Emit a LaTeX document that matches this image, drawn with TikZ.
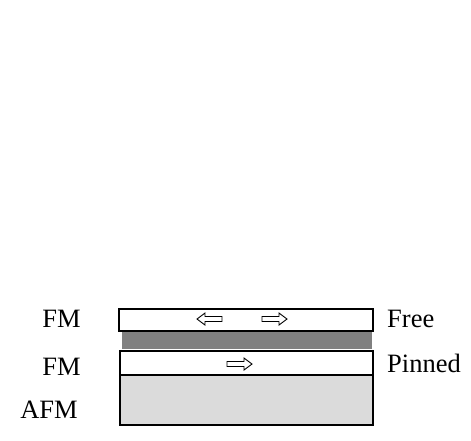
\documentclass[tikz,border=0pt]{standalone}
\usepackage{fontspec}
\setmainfont{Liberation Serif}
\begin{document}
\begin{tikzpicture}[x=1pt,y=-1pt,
  layer/.style={draw=black,line width=1.6pt},
  lbl/.style={font=\fontsize{26.5}{30}\selectfont,inner sep=0pt},
  harrow/.style={draw=black,line width=0.9pt,fill=white,line join=miter}]
\useasboundingbox (0,0) rectangle (471,440);
% layers
\fill[black!50] (122,331) rectangle (372,349);
\draw[draw=black,line width=1.2pt,fill=black!14] (120,375) rectangle (373,425);
\draw[layer,fill=white] (119,309) rectangle (373,331);
\draw[layer,fill=white] (120,351) rectangle (373,375);
% arrows
\newcommand{\rarr}[2]{\draw[harrow] (#1,#2-2.5) -- (#1+17,#2-2.5) -- (#1+17,#2-6) -- (#1+25,#2) -- (#1+17,#2+6) -- (#1+17,#2+2.5) -- (#1,#2+2.5) -- cycle;}
\newcommand{\larr}[2]{\draw[harrow] (#1,#2-2.5) -- (#1-17,#2-2.5) -- (#1-17,#2-6) -- (#1-25,#2) -- (#1-17,#2+6) -- (#1-17,#2+2.5) -- (#1,#2+2.5) -- cycle;}
\larr{222}{319}
\rarr{262}{319}
\rarr{227}{364}
% labels
\node[lbl,anchor=base east] (fm1) at (81,327) {FM};
\node[lbl,anchor=base east] (fm2) at (81,375) {FM};
\node[lbl,anchor=base east] (afm) at (78,418) {AFM};
\node[lbl,anchor=base west] (free) at (387,327) {Free};
\node[lbl,anchor=base west] (pinned) at (387,372) {Pinned};
\end{tikzpicture}
\end{document}
